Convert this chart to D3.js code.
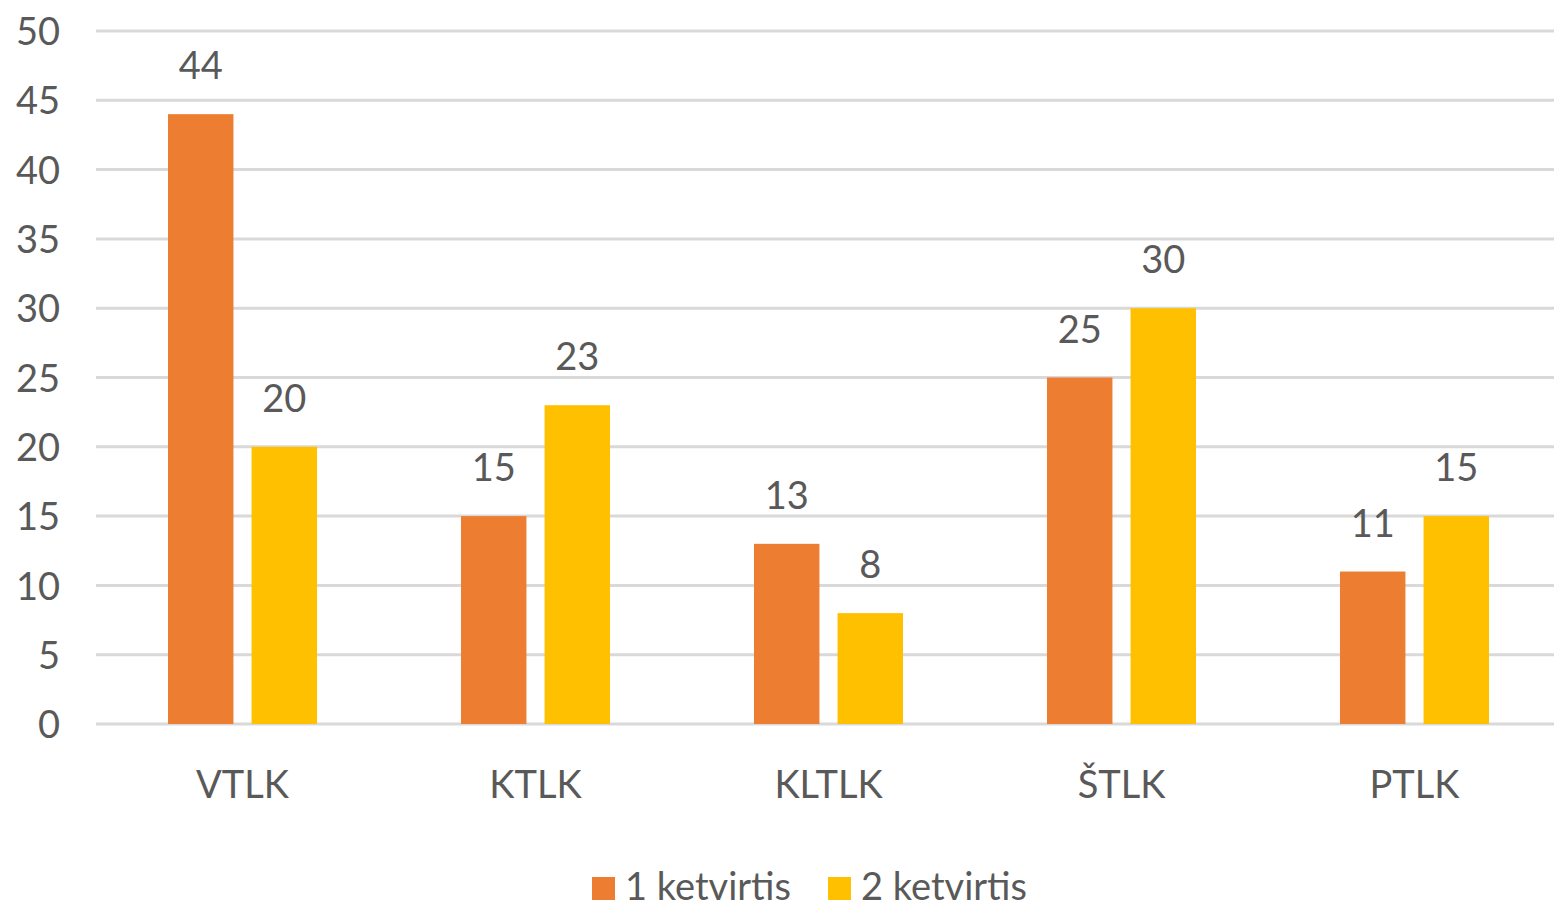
<!DOCTYPE html>
<html><head><meta charset="utf-8">
<script src="https://cdn.jsdelivr.net/npm/d3@7"></script>
<style>body{margin:0;background:#fff}</style>
</head><body>
<svg id="c" width="1554" height="908"></svg>
<script>
const categories = ["VTLK", "KTLK", "KLTLK", "ŠTLK", "PTLK"];
const seriesNames = ["1 ketvirtis", "2 ketvirtis"];
const series1 = [44, 15, 13, 25, 11];
const series2 = [20, 23, 8, 30, 15];
const yTicks = [0, 5, 10, 15, 20, 25, 30, 35, 40, 45, 50];
const colors = ["#ED7D31", "#FFC000"];

(function(){
const svg = d3.select("#c");
const font = "Lato, 'Open Sans', sans-serif";
const textColor = "#595959";
const fs = 38;
const plotLeft = 96, plotRight = 1561, plotTop = 31, plotBottom = 724;

const x = d3.scaleBand().domain(categories).range([plotLeft, plotRight]).paddingInner(0).paddingOuter(0);
const x1 = d3.scaleBand().domain([0, 1]).range([72, 293 - 72]).paddingInner(0.217);
const y = d3.scaleLinear().domain([0, 50]).range([plotBottom, plotTop]);

// gridlines
svg.append("g").selectAll("line").data(yTicks).join("line")
  .attr("x1", plotLeft).attr("x2", plotRight)
  .attr("y1", d => y(d)).attr("y2", d => y(d))
  .attr("stroke", "#d9d9d9").attr("stroke-width", 3);

// y axis labels
const yAxis = d3.axisLeft(y).tickValues(yTicks).tickSize(0).tickPadding(0);
const ya = svg.append("g").attr("transform", "translate(60,0)").call(yAxis);
ya.select(".domain").remove();
ya.selectAll("text").attr("font-family", font).attr("font-size", fs).attr("fill", textColor).attr("dy", "0.36em");

// x axis labels
const xAxis = d3.axisBottom(x).tickSize(0).tickPadding(0);
const xa = svg.append("g").attr("transform", "translate(0,771)").call(xAxis);
xa.select(".domain").remove();
xa.selectAll("text").attr("font-family", font).attr("font-size", fs).attr("fill", textColor).attr("dy", "0.72em");

const data = categories.map((c, i) => ({c, vals: [series1[i], series2[i]]}));
const groups = svg.append("g").selectAll("g").data(data).join("g")
  .attr("transform", d => `translate(${x(d.c)},0)`);
groups.selectAll("rect").data(d => d.vals.map((v, k) => ({v, k}))).join("rect")
  .attr("x", d => x1(d.k)).attr("width", x1.bandwidth())
  .attr("y", d => y(d.v)).attr("height", d => y(0) - y(d.v))
  .attr("fill", d => colors[d.k]);
groups.selectAll("text").data(d => d.vals.map((v, k) => ({v, k}))).join("text")
  .attr("x", d => x1(d.k) + x1.bandwidth() / 2)
  .attr("y", d => y(d.v) - 35)
  .attr("text-anchor", "middle")
  .attr("font-family", font).attr("font-size", fs).attr("fill", textColor)
  .text(d => d.v);

// legend
const legendX = [592, 828];
const lg = svg.append("g").selectAll("g").data(seriesNames).join("g")
  .attr("transform", (d, i) => `translate(${legendX[i]},877)`);
lg.append("rect").attr("width", 23).attr("height", 23).attr("fill", (d, i) => colors[i]);
lg.append("text").attr("x", 33).attr("y", 23)
  .attr("font-family", font).attr("font-size", fs).attr("fill", textColor)
  .text(d => d);
})();
</script>
</body></html>
